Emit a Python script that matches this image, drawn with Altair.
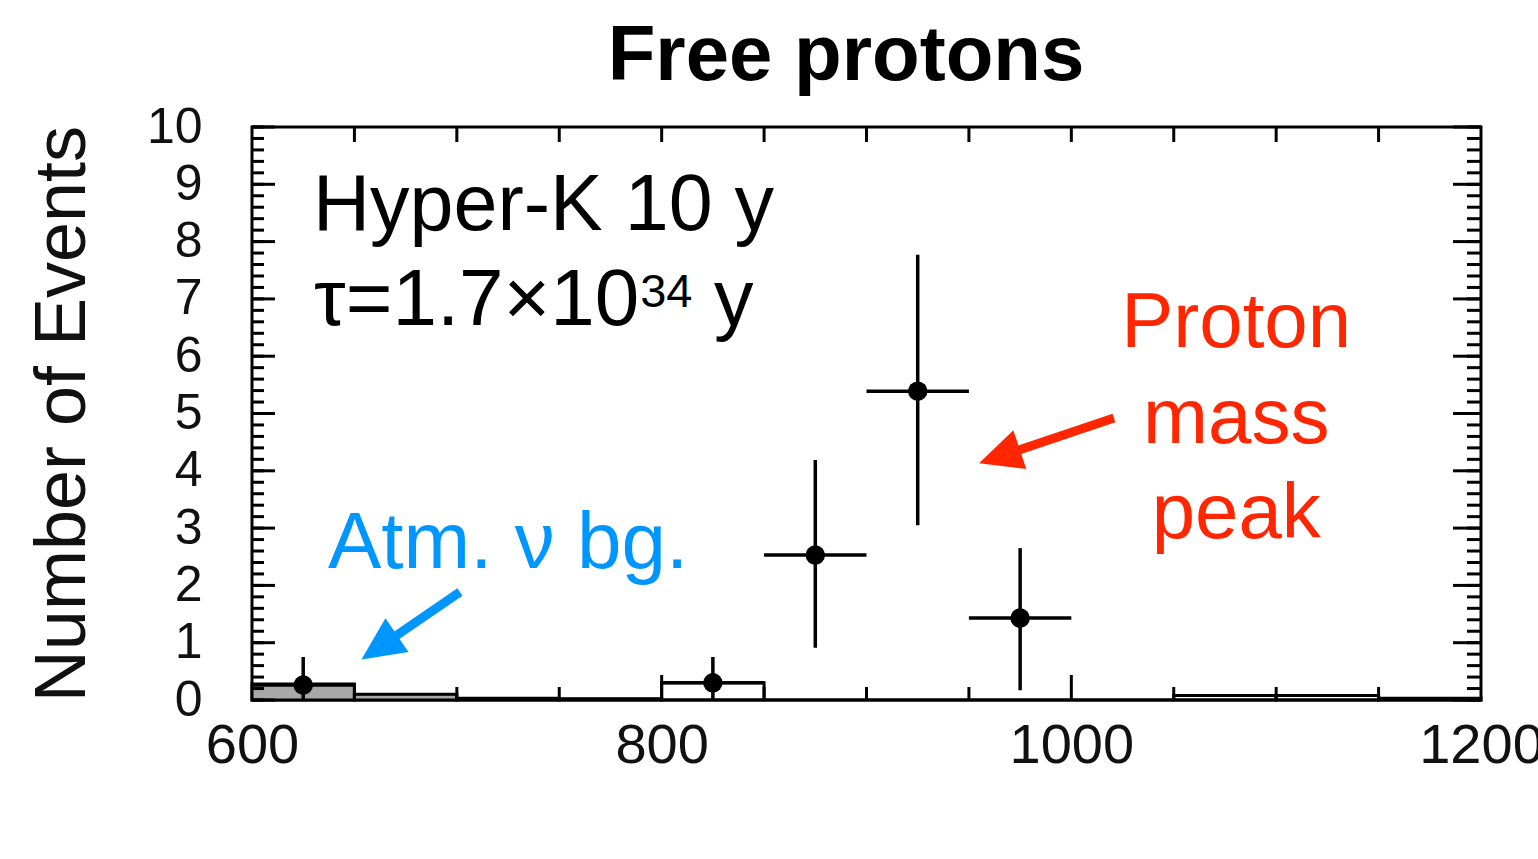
import altair as alt
import pandas as pd

# ---- histogram bins (MeV/c^2) ----
bin_lo = [600, 650, 700, 750, 800, 850, 900, 950, 1000, 1050, 1100, 1150]
bin_hi = [650, 700, 750, 800, 850, 900, 950, 1000, 1050, 1100, 1150, 1200]
mc_total = [0.28, 0.10, 0.03, 0.02, 0.30, 0.0, 0.0, 0.0, 0.0, 0.08, 0.08, 0.03]
atm_bg = [0.28, 0.10, 0.03, 0.02, 0.0, 0.0, 0.0, 0.0, 0.0, 0.0, 0.0, 0.0]

# ---- observed events with errors ----
obs_x = [625, 825, 875, 925, 975]
obs_x_lo = [600, 800, 850, 900, 950]
obs_x_hi = [650, 850, 900, 950, 1000]
obs_n = [0.26, 0.30, 2.53, 5.39, 1.43]
obs_lo = [0.0, 0.0, 0.91, 3.05, 0.17]
obs_hi = [0.75, 0.75, 4.19, 7.77, 2.65]

# ---- axis ticks ----
x_labels = [600, 800, 1000, 1200]
y_labels = list(range(0, 11))
y_minor = [round(i * 0.2, 1) for i in range(51)]
x_minor = [650, 700, 750, 850, 900, 950, 1050, 1100, 1150]
x_long = [800, 1000]

# ---- annotation anchors (data units) ----
red_arrow = {"x": [1020.8], "y": [4.92], "x2": [964.9], "y2": [4.25]}
red_head = {"x": [964.9], "y": [4.25], "angle": [251.6]}
blue_arrow = {"x": [701.5], "y": [1.885], "x2": [662.1], "y2": [0.92]}
blue_head = {"x": [662.1], "y": [0.92], "angle": [235.7]}

W, H = 1229, 573
FONT = "Liberation Sans"
RED = "#ff2600"
BLUE = "#0096ff"

xs = alt.Scale(domain=[600, 1200], nice=False, zero=False)
ys = alt.Scale(domain=[0, 10], nice=False, zero=True)

hist = pd.DataFrame({"lo": bin_lo, "hi": bin_hi, "mc": mc_total, "bg": atm_bg})
obs = pd.DataFrame({"x": obs_x, "xl": obs_x_lo, "xh": obs_x_hi,
                    "n": obs_n, "lo": obs_lo, "hi": obs_hi})

base_x = alt.X("x:Q", scale=xs,
               axis=alt.Axis(values=x_labels, format="d", ticks=False, domain=False,
                             grid=False, labelFontSize=56, labelFont=FONT,
                             labelColor="#111", labelPadding=18, labelFlush=False,
                             labelOverlap=False, labelBound=False, title=None))
base_y = alt.Y("n:Q", scale=ys,
               axis=alt.Axis(values=y_labels, format="d", ticks=False, domain=False,
                             grid=False, labelFontSize=50, labelFont=FONT,
                             labelColor="#111", labelPadding=50, labelFlush=False,
                             labelOverlap=False,
                             title="Number of Events", titleFontSize=72,
                             titleFont=FONT, titleFontWeight="normal",
                             titleColor="#111", titleAngle=270, titleX=-190,
                             titleY=H / 2, titleAlign="center",
                             titleBaseline="middle"))

# MC histogram outline
mc_rect = alt.Chart(hist).mark_rect(fill="white", fillOpacity=0, stroke="black",
                                    strokeWidth=3).encode(
    x=alt.X("lo:Q", scale=xs), x2="hi:Q",
    y=alt.Y("mc:Q", scale=ys), y2=alt.datum(0))

# atmospheric neutrino background (shaded)
bg_rect = alt.Chart(hist).transform_filter("datum.bg > 0").mark_rect(
    fill="#a8a8a8", stroke="black", strokeWidth=2).encode(
    x=alt.X("lo:Q", scale=xs), x2="hi:Q",
    y=alt.Y("bg:Q", scale=ys), y2=alt.datum(0))

# data points with error bars
pts = alt.Chart(obs).mark_circle(size=380, color="black", opacity=1).encode(
    x=base_x, y=base_y)
vbar = alt.Chart(obs).mark_rule(color="black", strokeWidth=3.5).encode(
    x=alt.X("x:Q", scale=xs), y=alt.Y("lo:Q", scale=ys), y2="hi:Q")
hbar = alt.Chart(obs).mark_rule(color="black", strokeWidth=3.5).encode(
    x=alt.X("xl:Q", scale=xs), x2="xh:Q", y=alt.Y("n:Q", scale=ys))

# inward tick marks
ymin_df = pd.DataFrame({"v": y_minor})
ymaj_df = pd.DataFrame({"v": y_labels})
xmin_df = pd.DataFrame({"v": x_minor})
xlong_df = pd.DataFrame({"v": x_long})
tick_kw = dict(color="black", strokeWidth=3)
ticks = [
    alt.Chart(ymin_df).mark_rule(**tick_kw).encode(
        y=alt.Y("v:Q", scale=ys), x=alt.value(0), x2=alt.value(12)),
    alt.Chart(ymaj_df).mark_rule(**tick_kw).encode(
        y=alt.Y("v:Q", scale=ys), x=alt.value(0), x2=alt.value(23)),
    alt.Chart(ymin_df).mark_rule(**tick_kw).encode(
        y=alt.Y("v:Q", scale=ys), x=alt.value(W - 14), x2=alt.value(W)),
    alt.Chart(ymaj_df).mark_rule(**tick_kw).encode(
        y=alt.Y("v:Q", scale=ys), x=alt.value(W - 28), x2=alt.value(W)),
    alt.Chart(xmin_df).mark_rule(**tick_kw).encode(
        x=alt.X("v:Q", scale=xs), y=alt.value(H - 13), y2=alt.value(H)),
    alt.Chart(xlong_df).mark_rule(**tick_kw).encode(
        x=alt.X("v:Q", scale=xs), y=alt.value(H - 25), y2=alt.value(H)),
    alt.Chart(pd.DataFrame({"v": x_minor + x_long})).mark_rule(**tick_kw).encode(
        x=alt.X("v:Q", scale=xs), y=alt.value(0), y2=alt.value(15)),
]


def label(txt, x, y, size, color="black", align="left"):
    df = pd.DataFrame({"t": [txt], "x": [x], "y": [y]})
    return alt.Chart(df).mark_text(font=FONT, fontSize=size, color=color,
                                   align=align, baseline="alphabetic").encode(
        x=alt.X("x:Q", scale=xs), y=alt.Y("y:Q", scale=ys), text="t:N")


texts = [
    label("Hyper-K 10 y", 629.8, 8.20, 79),
    label("τ=1.7×10", 630.3, 6.54, 80),
    label("34", 789.5, 6.86, 47),
    label("y", 825.5, 6.54, 79),
    label("Proton", 1080.5, 6.16, 78, RED, "center"),
    label("mass", 1080.5, 4.49, 78, RED, "center"),
    label("peak", 1080.5, 2.83, 78, RED, "center"),
    label("Atm. ν bg.", 637.1, 2.30, 80, BLUE),
]

# chart heading, placed above the frame
heading = alt.Chart(pd.DataFrame({"t": ["Free protons"]})).mark_text(
    font=FONT, fontSize=78, fontWeight="bold", color="black", align="center",
    baseline="alphabetic").encode(x=alt.value(594), y=alt.value(-47), text="t:N")


def arrow(shaft, head, color):
    s = alt.Chart(pd.DataFrame(shaft)).mark_rule(color=color, strokeWidth=9).encode(
        x=alt.X("x:Q", scale=xs), y=alt.Y("y:Q", scale=ys), x2="x2:Q", y2="y2:Q")
    h = alt.Chart(pd.DataFrame(head)).mark_point(
        shape="M0,-1L0.95,1L-0.95,1Z", size=1849, filled=True, color=color,
        opacity=1).encode(
        x=alt.X("x:Q", scale=xs), y=alt.Y("y:Q", scale=ys),
        angle=alt.Angle("angle:Q", scale=None))
    return [s, h]


layers = [bg_rect, mc_rect] + ticks + [vbar, hbar, pts] + texts + [heading] \
    + arrow(red_arrow, red_head, RED) + arrow(blue_arrow, blue_head, BLUE)

chart = alt.layer(*layers).properties(
    width=W, height=H,
    autosize=alt.AutoSizeParams(type="none"),
    padding={"left": 252, "top": 127, "right": 57, "bottom": 159},
).configure(
    background="white",
    view=alt.ViewConfig(stroke="black", strokeWidth=3),
)

chart.save("out.html", embed_options={"renderer": "svg", "actions": False})
